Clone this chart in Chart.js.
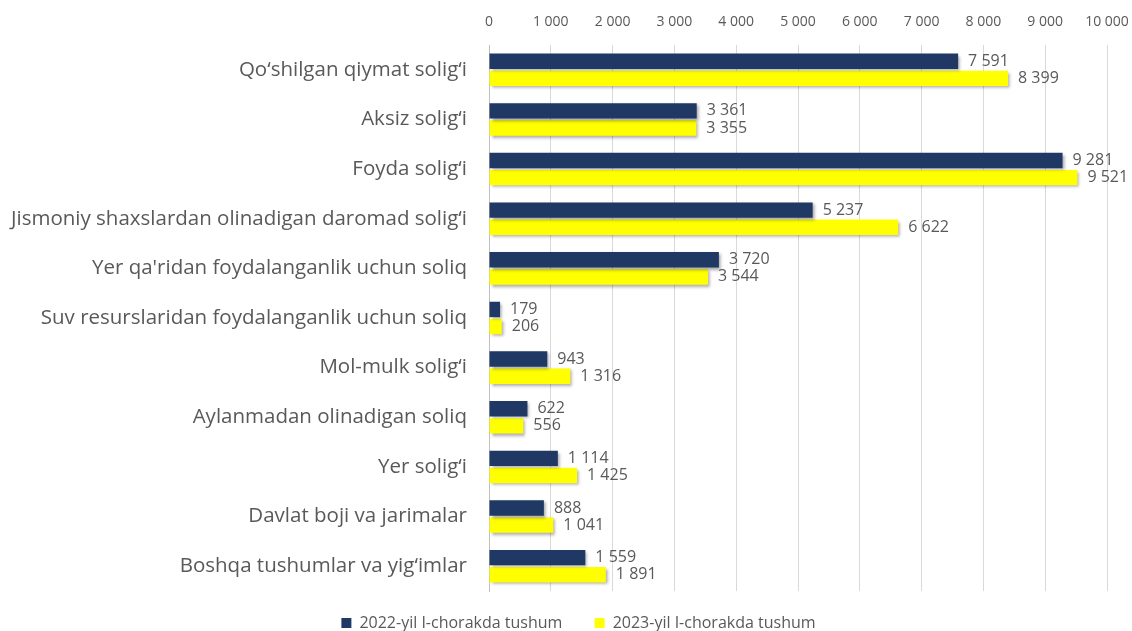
<!DOCTYPE html>
<html>
<head>
<meta charset="utf-8">
<script src="https://cdn.jsdelivr.net/npm/chart.js@4.4.1/dist/chart.umd.min.js"></script>
<style>
  html, body { margin: 0; padding: 0; background: #fff; }
  #wrap { width: 1132px; height: 631px; }
</style>
</head>
<body>
<div id="wrap"><canvas id="grafik"></canvas></div>
<script>
const kategoriyalar = [
    'Qo‘shilgan qiymat solig‘i',
    'Aksiz solig‘i',
    'Foyda solig‘i',
    'Jismoniy shaxslardan olinadigan daromad solig‘i',
    "Yer qa'ridan foydalanganlik uchun soliq",
    'Suv resurslaridan foydalanganlik uchun soliq',
    'Mol-mulk solig‘i',
    'Aylanmadan olinadigan soliq',
    'Yer solig‘i',
    'Davlat boji va jarimalar',
    'Boshqa tushumlar va yig‘imlar'
];
const tushum2022 = [7591, 3361, 9281, 5237, 3720, 179, 943, 622, 1114, 888, 1559];
const tushum2023 = [8399, 3355, 9521, 6622, 3544, 206, 1316, 556, 1425, 1041, 1891];
const seriyaNomlari = ['2022-yil I-chorakda tushum', '2023-yil I-chorakda tushum'];

const shrift = '"Open Sans", Lato, sans-serif';
const matnRangi = '#595959';

function formatSon(v) {
    return String(v).replace(/\B(?=(\d{3})+(?!\d))/g, ' ');
}

// Ustun soyasi
const soyaPlugin = {
    id: 'soya',
    beforeDatasetsDraw(chart) {
        const ctx = chart.ctx;
        ctx.save();
        ctx.shadowColor = 'rgba(0,0,0,0.35)';
        ctx.shadowBlur = 3;
        ctx.shadowOffsetX = 2;
        ctx.shadowOffsetY = 2;
    },
    afterDatasetsDraw(chart) {
        chart.ctx.restore();
    }
};

// Qiymat yorliqlari
const yorliqPlugin = {
    id: 'yorliq',
    afterDatasetsDraw(chart) {
        const ctx = chart.ctx;
        ctx.save();
        ctx.font = '16px ' + shrift;
        ctx.fillStyle = matnRangi;
        ctx.textAlign = 'left';
        ctx.textBaseline = 'middle';
        chart.data.datasets.forEach((ds, i) => {
            const meta = chart.getDatasetMeta(i);
            meta.data.forEach((bar, j) => {
                ctx.fillText(formatSon(ds.data[j]), bar.x + 10, bar.y);
            });
        });
        ctx.restore();
    }
};

// Legendani biroz o'ngga surish
const legendSurishPlugin = {
    id: 'legendSurish',
    afterLayout(chart) {
        if (chart.legend) {
            chart.legend.left += 25;
            chart.legend.right += 25;
        }
    }
};

const ctx = document.getElementById('grafik').getContext('2d');
new Chart(ctx, {
    type: 'bar',
    data: {
        labels: kategoriyalar,
        datasets: [{
            label: seriyaNomlari[0],
            data: tushum2022,
            backgroundColor: '#203864',
            borderWidth: 0,
            barPercentage: 0.9,
            categoryPercentage: 0.69
        }, {
            label: seriyaNomlari[1],
            data: tushum2023,
            backgroundColor: '#FFFF00',
            borderWidth: 0,
            barPercentage: 0.9,
            categoryPercentage: 0.69
        }]
    },
    options: {
        indexAxis: 'y',
        responsive: true,
        maintainAspectRatio: false,
        animation: false,
        layout: { padding: { top: 0, right: 25, bottom: -10, left: 0 } },
        plugins: {
            tooltip: { enabled: false },
            legend: {
                position: 'bottom',
                labels: {
                    boxWidth: 10,
                    boxHeight: 10,
                    padding: 24,
                    color: matnRangi,
                    font: { family: shrift, size: 16 },
                    generateLabels(chart) {
                        const items = Chart.defaults.plugins.legend.labels.generateLabels(chart);
                        items[0].text += '  ';
                        return items;
                    }
                }
            }
        },
        scales: {
            x: {
                position: 'top',
                min: 0,
                max: 10000,
                afterFit: s => { s.height = 45; s.paddingLeft = 0; s.paddingRight = 0; },
                ticks: {
                    stepSize: 1000,
                    color: matnRangi,
                    font: { family: shrift, size: 14 },
                    padding: 15,
                    callback: v => formatSon(v)
                },
                grid: { color: '#d9d9d9', drawTicks: false },
                border: { display: false }
            },
            y: {
                afterFit: s => { s.width = 489; s.paddingTop = 0; s.paddingBottom = 0; },
                ticks: {
                    color: matnRangi,
                    font: { family: shrift, size: 20.5 },
                    padding: 22
                },
                grid: { display: false, drawTicks: false },
                border: { display: true, color: '#bfbfbf' }
            }
        }
    },
    plugins: [soyaPlugin, yorliqPlugin, legendSurishPlugin]
});
</script>
</body>
</html>
